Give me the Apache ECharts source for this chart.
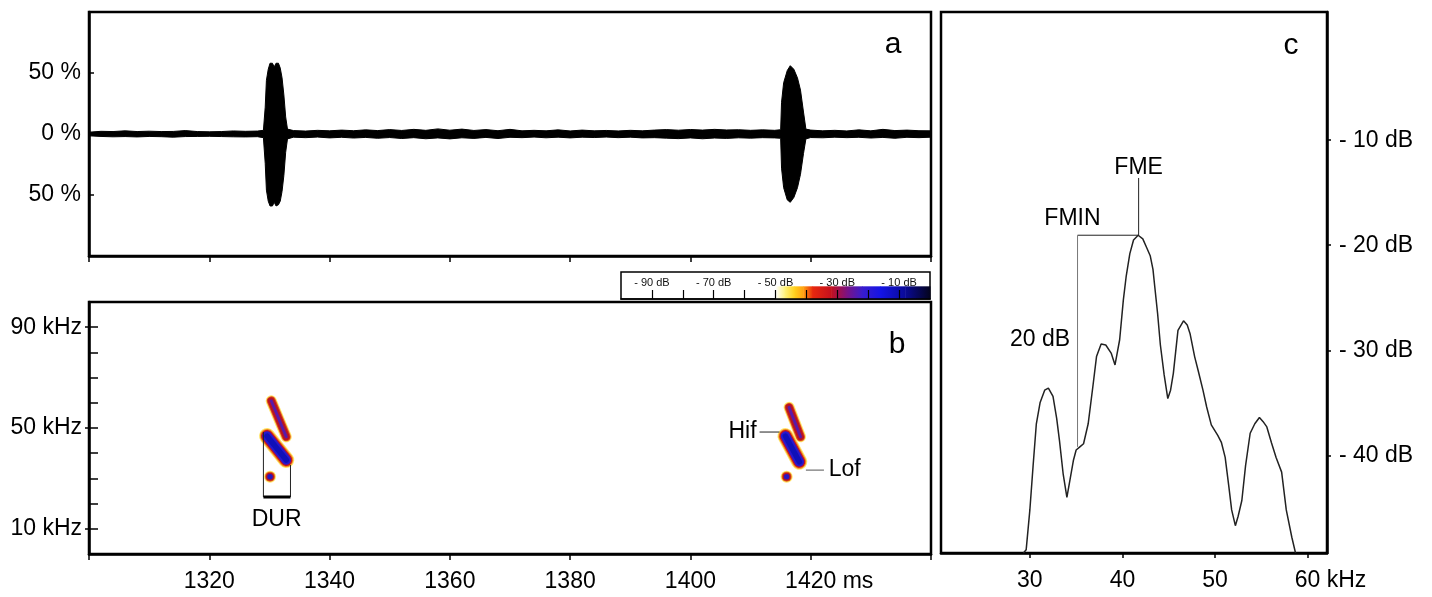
<!DOCTYPE html>
<html><head><meta charset="utf-8">
<script src="https://cdn.jsdelivr.net/npm/echarts@6/dist/echarts.min.js"></script>
<style>html,body{margin:0;padding:0;background:#fff}#c{width:1432px;height:597px}</style>
</head><body><div id="c"></div>
<script>
// ---------- DATA ----------
// Panel a: oscillogram envelope [time ms, upper %, lower %]
const waveEnvelope = [
 [1300,1.5,-1.5],[1302,2.2,-2.0],[1304,2.0,-2.3],[1306,2.6,-2.1],[1308,2.0,-2.4],[1310,2.3,-2.0],
 [1312,2.0,-2.2],[1314,2.1,-2.6],[1316,2.8,-2.1],[1318,2.0,-2.0],[1320,1.8,-1.9],[1322,2.0,-2.1],
 [1324,2.5,-2.3],[1326,2.2,-2.4],[1328,2.4,-2.2],
 [1329.0,3,-3],[1329.3,22,-24],[1329.5,44,-46],[1329.8,53,-55],[1330.1,58,-59],[1330.5,58,-59],
 [1330.8,55,-56],[1331.1,58,-59],[1331.5,58,-58],[1331.8,54,-55],[1332.1,46,-47],[1332.4,32,-34],
 [1332.7,14,-15],[1333.0,4,-4],
 [1334,2.8,-2.6],[1336,2.4,-3.0],[1338,3.0,-2.5],[1340,2.6,-3.2],[1342,3.2,-2.7],[1344,2.7,-3.3],
 [1346,3.4,-2.8],[1348,2.8,-3.5],[1350,3.6,-2.9],[1352,2.9,-3.7],[1354,3.8,-3.0],[1356,3.0,-3.9],
 [1358,4.2,-3.2],[1360,3.1,-4.0],[1362,4.0,-3.1],[1364,2.9,-3.6],[1366,3.6,-2.8],[1368,2.7,-3.7],
 [1370,3.8,-2.7],[1372,2.6,-3.0],[1374,3.0,-2.5],[1376,2.6,-3.1],[1378,3.4,-2.6],[1380,2.5,-3.2],
 [1382,3.2,-2.6],[1384,2.6,-2.9],[1386,2.9,-2.5],[1388,2.5,-3.0],[1390,3.0,-2.6],[1392,2.6,-3.2],
 [1394,3.2,-3.0],[1396,3.6,-3.4],[1398,3.1,-3.8],[1400,3.7,-3.2],[1402,3.2,-3.9],[1404,3.8,-3.3],
 [1406,3.3,-3.6],[1408,3.5,-3.1],[1410,3.0,-3.4],[1412,3.4,-3.0],[1414,3.0,-3.2],
 [1415.0,3.5,-3.5],[1415.15,26,-28],[1415.5,42,-44],[1416.1,52,-54],[1416.6,56,-56],[1417.2,53,-52],
 [1417.8,46,-44],[1418.3,36,-33],[1418.8,18,-16],[1419.2,4,-4],
 [1420,3.2,-2.9],[1422,2.6,-3.1],[1424,3.0,-2.6],[1426,2.5,-3.0],[1428,3.4,-2.7],[1430,2.6,-3.3],
 [1432,3.8,-2.8],[1434,2.8,-3.5],[1436,3.2,-2.7],[1438,2.7,-3.0],[1440,2.6,-2.6]
];
const waveLabels = [-50, 0, 50];

// Panel b: spectrogram streaks [t0 ms, f0 kHz, t1 ms, f1 kHz, kind]
const streaks = [
 [1330.3, 60.8, 1332.8, 46.5, 'upper'],
 [1329.6, 46.8, 1332.8, 37.3, 'main'],
 [1330.1, 30.7, 1330.1, 30.7, 'dot'],
 [1416.4, 58.2, 1418.3, 46.5, 'upper'],
 [1415.8, 46.8, 1418.1, 36.6, 'main'],
 [1416.0, 30.7, 1416.0, 30.7, 'dot']
];
const timeTicks = [1320, 1340, 1360, 1380, 1400, 1420];
const freqMinorTicks = [10, 20, 30, 40, 50, 60, 70, 80, 90];
const freqLabels = [10, 50, 90];
// annotation segments [[x,y],[x,y], width, color]
const durBracket = [
 [[1329.0, 48.4], [1329.0, 22.6], 1, '#222'],
 [[1333.5, 35.3], [1333.5, 22.6], 1, '#222'],
 [[1329.0, 22.6], [1333.5, 22.6], 3, '#000']
];
const callMarks = [
 [[1411.5, 48.4], [1414.8, 48.4], 1, '#222'],
 [[1419.2, 33.3], [1422.2, 33.3], 1.2, '#777']
];
const spectrogramTexts = [
 ['DUR', 1331.2, 13.5, 'inside'],
 ['Hif', 1411.0, 48.4, 'left'],
 ['Lof', 1423.0, 33.3, 'right']
];

// Colour scale [dB, colour]
const dbScaleStops = [[-50,'#ffffff'],[-47,'#fff27a'],[-44,'#ffd21e'],[-41,'#ffa010'],[-38,'#e8280e'],
 [-32,'#c4101e'],[-27,'#7c1282'],[-22,'#3a1ccc'],[-16,'#1414e6'],[-8,'#0a0a96'],[0,'#04041c']];
const dbTicks = [-90, -80, -70, -60, -50, -40, -30, -20, -10];
const dbLabels = [-90, -70, -50, -30, -10];

// Panel c: power spectrum [kHz, dB]
const spectrum = [
 [29.3,-49.3],[29.6,-49.0],[30.0,-45.2],[30.35,-41.0],[30.7,-37.0],[31.1,-35.0],[31.6,-33.8],[32.0,-33.6],
 [32.5,-34.4],[32.9,-36.5],[33.2,-38.6],[33.6,-41.8],[34.0,-44.0],[34.3,-42.5],[34.7,-40.5],[35.0,-39.5],
 [35.4,-39.2],[35.8,-38.9],[36.3,-37.0],[36.8,-33.5],[37.2,-30.6],[37.7,-29.4],[38.2,-29.5],[38.8,-30.3],
 [39.2,-31.4],[39.7,-29.0],[40.1,-25.2],[40.4,-23.0],[40.8,-20.8],[41.2,-19.5],[41.7,-19.05],[42.2,-19.4],
 [42.6,-20.2],[43.0,-21.0],[43.3,-22.3],[43.5,-24.0],[43.8,-26.5],[44.1,-29.5],[44.5,-32.3],[44.9,-34.6],
 [45.2,-33.8],[45.5,-32.2],[46.0,-28.1],[46.6,-27.2],[47.0,-27.6],[47.3,-28.4],[47.8,-30.6],[48.2,-32.0],
 [48.7,-33.8],[49.1,-35.4],[49.6,-37.1],[50.3,-38.1],[50.7,-38.8],[51.1,-40.2],[51.5,-43.0],[51.8,-45.2],
 [52.2,-46.7],[52.5,-45.8],[52.9,-44.3],[53.3,-41.0],[53.8,-37.9],[54.3,-37.0],[54.8,-36.4],[55.2,-36.8],
 [55.6,-37.3],[56.1,-38.8],[56.6,-40.2],[57.2,-41.6],[57.7,-45.2],[58.3,-47.8],[58.7,-49.3]
];
const specFreqTicks = [30, 40, 50, 60];
const specDbTicks = [-40, -30, -20, -10];
const specMarks = [
 [[41.75, -19.05], [41.75, -13.6], 1, '#222'],
 [[35.15, -19.05], [41.75, -19.05], 1, '#222'],
 [[35.15, -19.05], [35.15, -39.2], 1, '#777']
];
const spectrumTexts = [
 ['FME', 41.75, -12.6, 'inside'],
 ['FMIN', 34.6, -17.5, 'inside'],
 ['20 dB', 31.1, -28.95, 'inside']
];

// ---------- CHART ----------
const FONT = 'Liberation Sans, Arial, sans-serif';
const FS = 23;
const chart = echarts.init(document.getElementById('c'), null, {renderer: 'canvas'});

const streakLayers = {
  upper: [[11,'rgba(255,225,80,0.85)'],[9,'#e0501a'],[7,'#b81422'],[3,'#5a1aa8']],
  main:  [[16,'rgba(255,225,80,0.85)'],[14,'#f08a20'],[12,'#c8141c'],[9.5,'#2a18cc'],[5.5,'#1010b8']],
  dot:   [[12,'rgba(255,225,80,0.85)'],[10,'#e06018'],[8,'#b8141e'],[5.5,'#2a18c0']]
};

function renderStreak(params, api) {
  const p0 = api.coord([api.value(0), api.value(1)]);
  const p1 = api.coord([api.value(2), api.value(3)]);
  const kind = streaks[params.dataIndex][4];
  const children = streakLayers[kind].map(([w, c]) => kind === 'dot'
    ? {type: 'circle', shape: {cx: p0[0], cy: p0[1], r: w / 2}, style: {fill: c}}
    : {type: 'line', shape: {x1: p0[0], y1: p0[1], x2: p1[0], y2: p1[1]},
       style: {stroke: c, lineWidth: w, lineCap: 'round'}});
  return {type: 'group', children};
}

const colorSegments = [];
for (let i = 0; i < dbScaleStops.length - 1; i++) {
  colorSegments.push([dbScaleStops[i][0], dbScaleStops[i + 1][0], i]);
}
function renderColorbar(params, api) {
  const i = colorSegments[params.dataIndex][2];
  const p0 = api.coord([api.value(0), 0.47]);
  const p1 = api.coord([api.value(1), 0]);
  return {
    type: 'rect',
    shape: {x: p0[0], y: p0[1], width: p1[0] - p0[0] + 0.5, height: p1[1] - p0[1]},
    style: {fill: {type: 'linear', x: 0, y: 0, x2: 1, y2: 0,
      colorStops: [{offset: 0, color: dbScaleStops[i][1]}, {offset: 1, color: dbScaleStops[i + 1][1]}]}}
  };
}

function segSeries(list, xi, yi) {
  return list.map(s => ({
    type: 'line', xAxisIndex: xi, yAxisIndex: yi, data: [s[0], s[1]], symbol: 'none',
    lineStyle: {color: s[3], width: s[2]}, z: 5, silent: true
  }));
}
function textSeries(list, xi, yi) {
  return {
    type: 'scatter', xAxisIndex: xi, yAxisIndex: yi, symbolSize: 0, z: 6, silent: true,
    itemStyle: {opacity: 1},
    data: list.map(t => ({name: t[0], value: [t[1], t[2]],
      label: {show: true, position: t[3], distance: 0, formatter: '{b}', color: '#000', opacity: 1,
        fontSize: FS, fontFamily: FONT}}))
  };
}

const axisLineStyle = {show: true, onZero: false, lineStyle: {color: '#000', width: 2.5}};
const labelStyle = {color: '#000', fontSize: FS, fontFamily: FONT};

const option = {
  animation: false,
  backgroundColor: '#fff',
  grid: [
    {left: 89, top: 12, width: 842, height: 244, show: true, borderColor: '#000', borderWidth: 2.5},
    {left: 89, top: 302, width: 842, height: 252, show: true, borderColor: '#000', borderWidth: 2.5},
    {left: 941, top: 12, width: 386, height: 541, show: true, borderColor: '#000', borderWidth: 2.5},
    {left: 621, top: 272, width: 309, height: 27, show: true, borderColor: '#000', borderWidth: 1.5}
  ],
  xAxis: [
    {gridIndex: 0, type: 'value', min: 1300, max: 1440, interval: 20, axisLine: axisLineStyle,
     axisTick: {length: 6, lineStyle: {width: 1.5, color: '#000'}}, axisLabel: {show: false}, splitLine: {show: false}},
    {gridIndex: 1, type: 'value', min: 1300, max: 1440, interval: 20, axisLine: axisLineStyle,
     axisTick: {length: 6, lineStyle: {width: 1.5, color: '#000'}}, splitLine: {show: false},
     axisLabel: Object.assign({customValues: timeTicks, margin: 16,
       formatter: v => v === timeTicks[timeTicks.length - 1] ? '{p| }' + v + ' ms' : String(v),
       rich: {p: {width: 37}}}, labelStyle)},
    {gridIndex: 2, type: 'value', min: 20.4, max: 62.1, axisLine: axisLineStyle, splitLine: {show: false},
     axisTick: {customValues: specFreqTicks, length: 5, lineStyle: {width: 1.5, color: '#000'}},
     axisLabel: Object.assign({customValues: specFreqTicks, margin: 16,
       formatter: v => v === specFreqTicks[specFreqTicks.length - 1] ? '{p| }' + v + ' kHz' : String(v),
       rich: {p: {width: 46}}}, labelStyle)},
    {gridIndex: 3, type: 'value', min: -100, max: 0, interval: 10, z: 10, splitLine: {show: false},
     axisLine: {show: true, onZero: false, lineStyle: {color: '#000', width: 1.5}},
     axisTick: {inside: true, customValues: dbTicks, length: 9, lineStyle: {width: 1.2, color: '#000'}},
     axisLabel: {inside: true, customValues: dbLabels, margin: 11, color: '#111', fontSize: 11, fontFamily: FONT,
       formatter: v => '- ' + Math.abs(v) + ' dB'}}
  ],
  yAxis: [
    {gridIndex: 0, type: 'value', min: -100, max: 100, axisLine: axisLineStyle, splitLine: {show: false},
     axisTick: {inside: true, customValues: waveLabels, length: 5, lineStyle: {width: 1.5, color: '#000'}},
     axisLabel: Object.assign({customValues: waveLabels, margin: 8, formatter: v => Math.abs(v) + ' %'}, labelStyle)},
    {gridIndex: 1, type: 'value', position: 'left', min: 0, max: 100, axisLine: axisLineStyle, splitLine: {show: false},
     axisTick: {inside: true, customValues: freqMinorTicks, length: 9, lineStyle: {width: 1.5, color: '#000'}},
     axisLabel: {show: false}},
    {gridIndex: 1, type: 'value', position: 'left', offset: 0, min: 0, max: 100, axisLine: {show: false, onZero: false},
     splitLine: {show: false},
     axisTick: {customValues: freqLabels, length: 4, lineStyle: {width: 1.5, color: '#000'}},
     axisLabel: Object.assign({customValues: freqLabels, margin: 7, formatter: v => v + ' kHz'}, labelStyle)},
    {gridIndex: 2, type: 'value', position: 'right', min: -49.3, max: 2.2, axisLine: axisLineStyle,
     splitLine: {show: false},
     axisTick: {customValues: specDbTicks, length: 4, lineStyle: {width: 1.5, color: '#000'}},
     axisLabel: Object.assign({customValues: specDbTicks, margin: 12, formatter: v => '- ' + Math.abs(v) + ' dB'}, labelStyle)},
    {gridIndex: 3, type: 'value', min: 0, max: 1, show: false}
  ],
  graphic: [
    {type: 'text', x: 893, y: 45, style: {text: 'a', fontSize: 30, fontFamily: FONT, fill: '#000', align: 'center', verticalAlign: 'middle'}},
    {type: 'text', x: 897, y: 345, style: {text: 'b', fontSize: 30, fontFamily: FONT, fill: '#000', align: 'center', verticalAlign: 'middle'}},
    {type: 'text', x: 1291, y: 46, style: {text: 'c', fontSize: 30, fontFamily: FONT, fill: '#000', align: 'center', verticalAlign: 'middle'}}
  ],
  series: [
    {type: 'line', xAxisIndex: 0, yAxisIndex: 0, symbol: 'none', data: waveEnvelope.map(d => [d[0], d[1]]),
     lineStyle: {color: '#000', width: 1}, areaStyle: {color: '#000', opacity: 1}},
    {type: 'line', xAxisIndex: 0, yAxisIndex: 0, symbol: 'none', data: waveEnvelope.map(d => [d[0], d[2]]),
     lineStyle: {color: '#000', width: 1}, areaStyle: {color: '#000', opacity: 1}},
    {type: 'custom', xAxisIndex: 1, yAxisIndex: 1, data: streaks.map(s => [s[0], s[1], s[2], s[3]]),
     renderItem: renderStreak, z: 3, silent: true},
    ...segSeries(durBracket, 1, 1),
    ...segSeries(callMarks, 1, 1),
    textSeries(spectrogramTexts, 1, 1),
    {type: 'line', xAxisIndex: 2, yAxisIndex: 3, symbol: 'none', data: spectrum,
     lineStyle: {color: '#222', width: 1.5}, z: 4},
    ...segSeries(specMarks, 2, 3),
    textSeries(spectrumTexts, 2, 3),
    {type: 'custom', xAxisIndex: 3, yAxisIndex: 4, data: colorSegments.map(s => [s[0], s[1]]),
     renderItem: renderColorbar, z: 1, silent: true}
  ]
};
chart.setOption(option);
</script>
</body></html>
